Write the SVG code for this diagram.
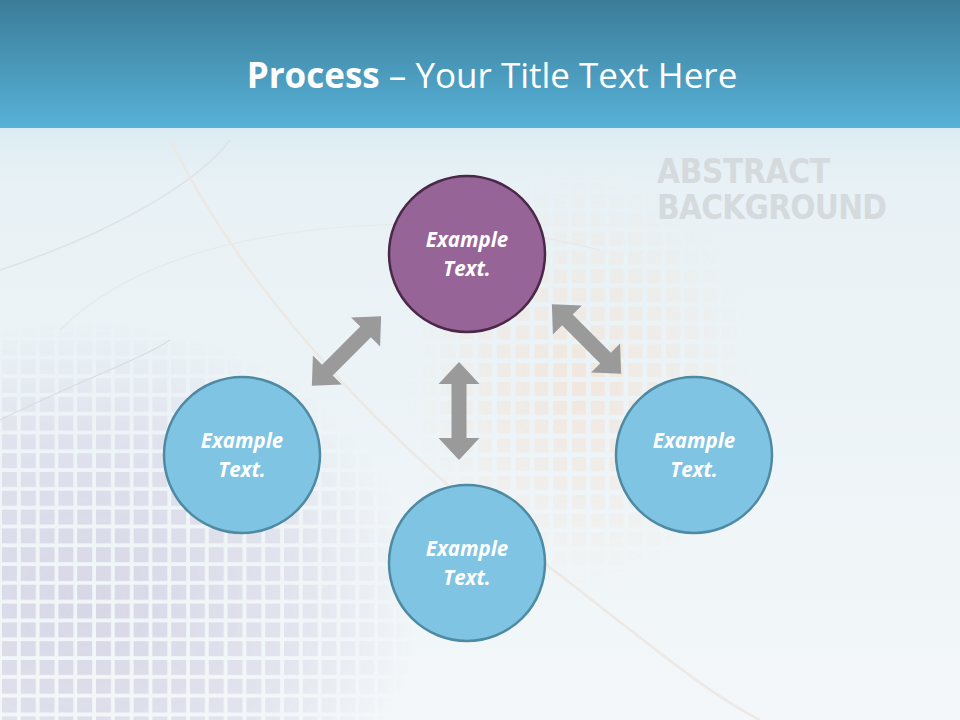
<svg xmlns="http://www.w3.org/2000/svg" width="960" height="720" viewBox="0 0 960 720">
<defs>
  <linearGradient id="hdr" x1="0" y1="0" x2="0" y2="1">
    <stop offset="0" stop-color="#3b7c98"/>
    <stop offset="1" stop-color="#57b2d8"/>
  </linearGradient>
  <linearGradient id="bg" x1="0" y1="0" x2="0" y2="1">
    <stop offset="0" stop-color="#a9d5e9"/>
    <stop offset="0.1" stop-color="#cfe6f1"/>
    <stop offset="0.25" stop-color="#e8f1f5"/>
    <stop offset="1" stop-color="#f3f7f9"/>
  </linearGradient>
  <pattern id="sqL" x="0" y="0" width="18.8" height="18.8" patternUnits="userSpaceOnUse">
    <rect x="2" y="2" width="15" height="15" fill="#d4d3e4"/>
  </pattern>
  <pattern id="sqO" x="6" y="4" width="18.8" height="18.8" patternUnits="userSpaceOnUse">
    <rect x="2" y="2" width="14" height="14" fill="#f3e2d4"/>
  </pattern>
  <radialGradient id="mL" cx="0.15" cy="0.75" r="0.6">
    <stop offset="0" stop-color="#fff" stop-opacity="1"/>
    <stop offset="0.6" stop-color="#fff" stop-opacity="0.6"/>
    <stop offset="1" stop-color="#fff" stop-opacity="0"/>
  </radialGradient>
  <radialGradient id="mO" cx="0.5" cy="0.5" r="0.5">
    <stop offset="0" stop-color="#fff" stop-opacity="0.9"/>
    <stop offset="1" stop-color="#fff" stop-opacity="0"/>
  </radialGradient>
  <mask id="maskL"><rect x="0" y="250" width="560" height="470" fill="url(#mL)"/></mask>
  <mask id="maskO"><rect x="400" y="170" width="360" height="420" fill="url(#mO)"/></mask>
  <path id="arrow" d="M0,-49 L20.5,-27 L7.5,-27 L7.5,27 L20.5,27 L0,49 L-20.5,27 L-7.5,27 L-7.5,-27 L-20.5,-27 Z"/>
  <style>
    .title{font-family:"Open Sans","Noto Sans",sans-serif;fill:#ffffff;font-size:35px}
    .lbl{font-family:"Open Sans","Noto Sans",sans-serif;font-weight:bold;font-style:italic;font-size:20.5px;fill:#ffffff;text-anchor:middle}
    .blue{fill:#7fc4e2;stroke:#4f8aa3;stroke-width:2.5}
    .purple{fill:#976498;stroke:#4a2848;stroke-width:2.5}
    .arr{fill:#9a9a9a}
    .abs{font-family:"DejaVu Sans Condensed","DejaVu Sans",sans-serif;font-weight:bold;font-size:33px;fill:#d5dadd}
  </style>
</defs>

<!-- background -->
<rect x="0" y="0" width="960" height="720" fill="url(#bg)"/>
<rect x="0" y="250" width="560" height="470" fill="url(#sqL)" mask="url(#maskL)" opacity="0.9"/>
<rect x="400" y="170" width="360" height="420" fill="url(#sqO)" mask="url(#maskO)" opacity="0.8"/>
<path d="M0,270 C120,230 200,180 230,140" fill="none" stroke="#dde3e7" stroke-width="1.5"/>
<path d="M60,330 C130,260 250,230 380,225 C450,222 520,230 600,250" fill="none" stroke="#e6e9ec" stroke-width="1.2"/>
<path d="M170,140 C260,320 420,470 540,560 C620,620 700,690 760,720" fill="none" stroke="#ece8e4" stroke-width="2.5"/>
<path d="M0,420 C80,380 140,360 170,340" fill="none" stroke="#d8dce1" stroke-width="1.2"/>
<text class="abs" x="657" y="183" textLength="173">ABSTRACT</text>
<text class="abs" x="657" y="219" textLength="230">BACKGROUND</text>

<!-- header -->
<rect x="0" y="0" width="960" height="128" fill="url(#hdr)"/>
<text class="title" x="492" y="88" text-anchor="middle"><tspan font-weight="bold">Process</tspan> – Your Title Text Here</text>

<!-- connectors -->
<g id="connectors" class="arr">
  <use href="#arrow" transform="translate(346.5,351) rotate(45)"/>
  <use href="#arrow" transform="translate(586.5,339) rotate(-45)"/>
  <use href="#arrow" transform="translate(459,411)"/>
</g>

<!-- nodes -->
<g id="node-top">
  <circle class="purple" cx="467" cy="254" r="78"/>
  <text class="lbl" x="467" y="247">Example</text>
  <text class="lbl" x="467" y="276">Text.</text>
</g>
<g id="node-left">
  <circle class="blue" cx="242" cy="455" r="78"/>
  <text class="lbl" x="242" y="448">Example</text>
  <text class="lbl" x="242" y="477">Text.</text>
</g>
<g id="node-right">
  <circle class="blue" cx="694" cy="455" r="78"/>
  <text class="lbl" x="694" y="448">Example</text>
  <text class="lbl" x="694" y="477">Text.</text>
</g>
<g id="node-bottom">
  <circle class="blue" cx="467" cy="563" r="78"/>
  <text class="lbl" x="467" y="556">Example</text>
  <text class="lbl" x="467" y="585">Text.</text>
</g>
</svg>
